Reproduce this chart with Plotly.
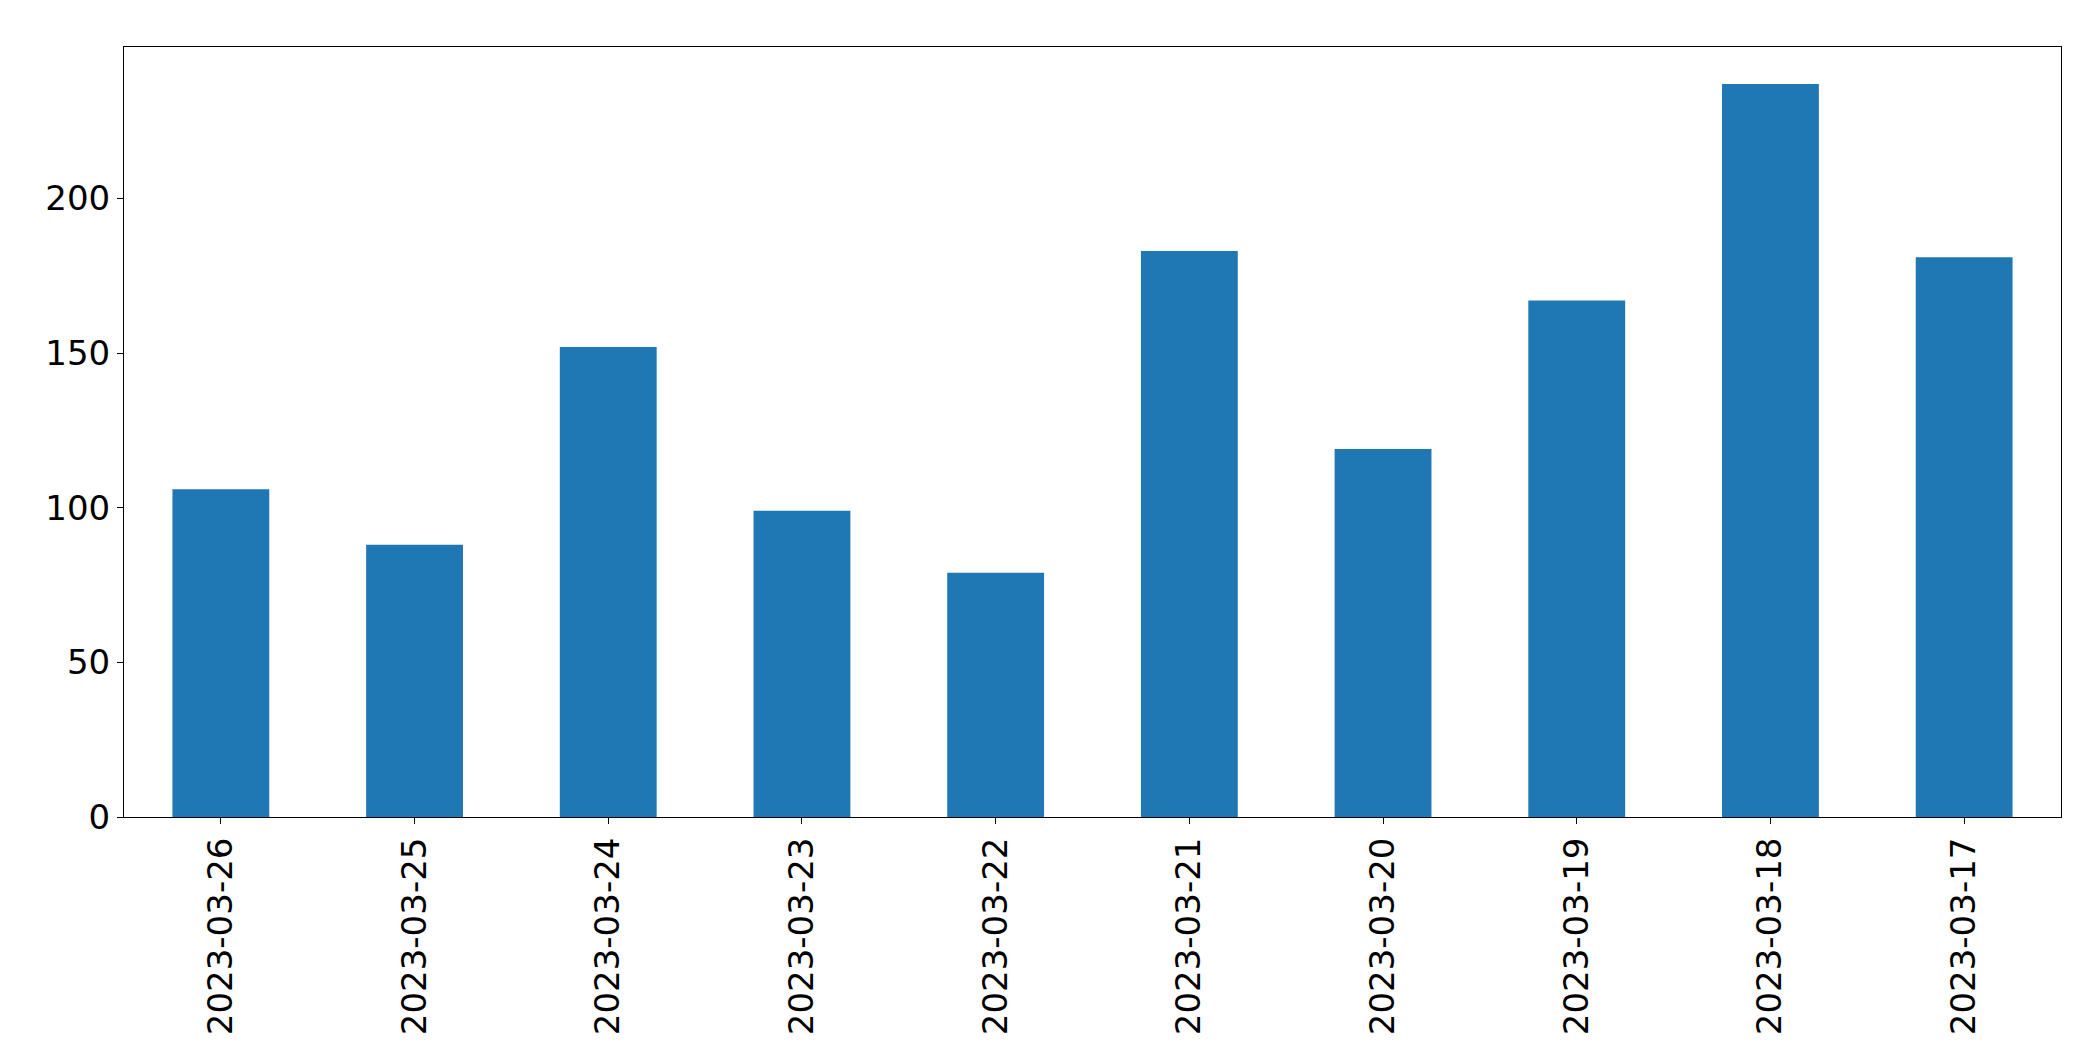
import plotly.graph_objects as go

# Data
dates = ['2023-03-26', '2023-03-25', '2023-03-24', '2023-03-23', '2023-03-22',
         '2023-03-21', '2023-03-20', '2023-03-19', '2023-03-18', '2023-03-17']
counts = [106, 88, 152, 99, 79, 183, 119, 167, 237, 181]

fig = go.Figure(go.Bar(x=dates, y=counts, width=0.5, marker=dict(color='#1f77b4', line=dict(width=0))))

axis_style = dict(showline=True, linecolor='black', linewidth=1, mirror=True, showgrid=False,
                  ticks='outside', ticklen=6, tickcolor='black', zeroline=False)

fig.update_xaxes(type='category', tickangle=-90, range=[-0.5, 9.5], **axis_style)
fig.update_yaxes(range=[0, 249], tickvals=[0, 50, 100, 150, 200], **axis_style)

fig.update_layout(
    width=2093, height=1061,
    plot_bgcolor='white', paper_bgcolor='white',
    font=dict(family='DejaVu Sans', size=34, color='black'),
    margin=dict(l=116, r=40, t=39, b=252),
    showlegend=False,
)

fig.write_html("out.html")
